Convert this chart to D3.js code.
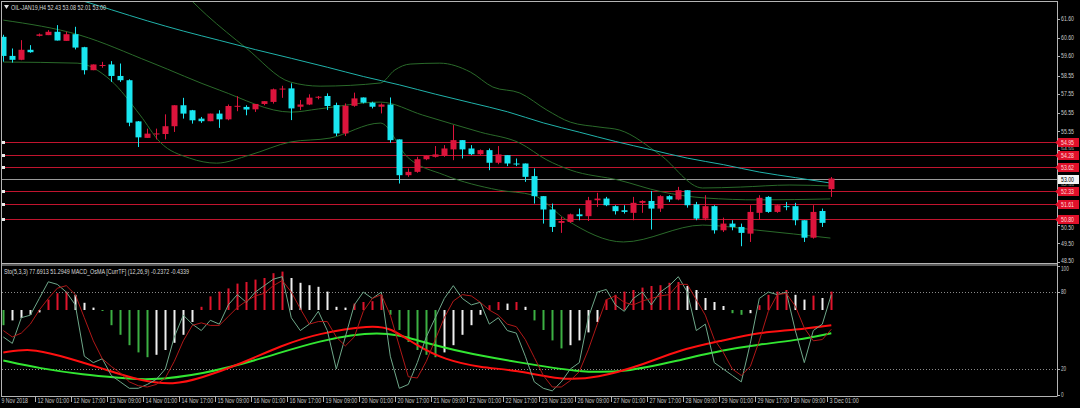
<!DOCTYPE html>
<html><head><meta charset="utf-8">
<script src="https://cdn.jsdelivr.net/npm/d3@7"></script>
<style>
html,body{margin:0;padding:0;background:#000;overflow:hidden;}
svg{display:block;}
text{font-family:"Liberation Sans",Arial,sans-serif;}
</style></head><body>
<svg id="c" width="1080" height="408"></svg>
<script>
// ---------------- DATA ----------------
const symbolTitle = "OIL-JAN19,H4  52.43 53.08 52.01 53.00";
const indicatorTitle = "Sto(5,3,3) 77.6913 51.2949  MACD_OsMA [CurrTF] (12,26,9) -0.2372 -0.4339";

const timeLabels = ["9 Nov 2018","12 Nov 01:00","12 Nov 17:00","13 Nov 09:00","14 Nov 01:00","14 Nov 17:00",
  "15 Nov 09:00","16 Nov 01:00","16 Nov 17:00","19 Nov 09:00","20 Nov 01:00","20 Nov 17:00","21 Nov 09:00",
  "22 Nov 01:00","22 Nov 17:00","23 Nov 13:00","26 Nov 09:00","27 Nov 01:00","27 Nov 17:00","28 Nov 09:00",
  "29 Nov 01:00","29 Nov 17:00","30 Nov 09:00","3 Dec 01:00"];
const timeLabelBars = [0,4,8,12,16,20,24,28,32,36,40,44,48,52,56,60,64,68,72,76,80,84,88,92];

const priceTicks = [61.60,60.60,59.60,58.55,57.55,56.55,55.55,54.55,52.55,50.50,49.50,48.50];
const stochTicks = [100,80,20,0];
const stochLevels = [80,20];

const levelLines = [54.95,54.28,53.62,52.33,51.61,50.80];
const bidPrice = 53.00;

const open  = [60.64,59.61,59.40,59.94,60.69,60.73,60.91,60.42,60.78,60.08,58.84,59.11,59.15,58.53,58.30,56.08,55.19,55.42,55.40,55.82,
  56.95,56.68,56.23,56.09,56.50,56.19,56.91,56.86,56.73,57.02,57.13,57.82,57.86,56.87,56.99,57.36,57.45,56.96,55.43,56.92,
  57.37,57.09,56.87,56.99,55.11,53.18,53.36,54.04,54.17,54.22,54.57,55.07,54.62,54.31,54.53,53.85,54.26,53.81,53.81,53.13,
  52.05,51.33,50.61,50.66,51.07,50.97,51.83,51.92,51.51,51.29,51.15,51.69,51.79,51.38,52.05,51.87,52.37,51.61,50.84,51.51,
  50.21,50.57,50.39,50.03,51.15,52.01,51.20,51.51,51.51,50.75,49.81,51.25,52.43];
const high  = [60.75,60.01,60.46,60.19,60.82,61.00,61.27,60.91,61.18,60.10,59.15,59.29,59.33,59.20,58.35,56.10,55.69,55.69,56.46,56.95,
  57.35,56.70,56.32,56.50,56.68,56.99,57.44,56.95,57.02,57.17,57.85,58.00,58.13,57.23,57.54,57.45,57.59,57.09,57.05,57.63,
  57.37,57.14,57.05,57.37,55.11,53.54,54.17,54.26,54.75,54.80,55.88,55.07,54.80,54.57,54.62,54.75,54.26,54.08,53.81,53.54,
  52.05,51.65,50.93,51.11,51.38,52.01,52.23,52.01,51.56,51.56,52.01,51.83,52.33,52.10,52.10,52.55,52.37,51.74,52.10,51.56,
  50.89,50.75,50.57,51.56,52.10,52.05,51.61,51.74,51.69,50.75,51.56,51.38,53.08];
const low   = [59.30,59.25,59.38,59.78,60.66,60.73,60.44,60.42,59.96,58.61,58.84,58.97,58.21,58.21,55.82,54.70,55.19,55.11,55.11,55.51,
  56.23,55.96,56.00,56.09,55.73,56.14,56.63,56.41,56.59,56.95,57.04,57.35,56.15,56.69,56.96,57.27,56.69,55.29,55.29,56.87,
  57.05,56.78,56.51,54.93,52.73,53.09,53.31,53.99,54.13,54.17,53.99,54.08,54.26,54.26,53.45,53.77,53.67,53.67,52.82,51.65,
  50.57,50.12,50.07,50.61,50.75,50.71,51.47,51.51,51.06,51.11,50.75,51.15,50.25,51.20,51.74,51.83,51.43,50.75,50.75,50.03,
  50.12,50.21,49.35,49.58,50.79,51.15,51.15,51.29,50.48,49.58,49.76,50.39,52.01];
const close = [59.61,59.40,59.94,59.81,60.77,60.91,60.44,60.78,60.06,58.84,59.15,59.12,58.53,58.30,56.01,55.22,55.42,55.43,55.82,56.95,
  56.50,56.14,56.09,56.50,56.19,56.91,56.92,56.72,57.02,57.17,57.81,57.85,56.78,56.99,57.36,57.41,56.91,55.43,56.92,57.32,
  57.09,56.87,56.99,55.07,53.18,53.36,54.04,54.22,54.30,54.62,55.07,54.57,54.31,54.53,53.85,54.30,53.81,53.80,53.09,52.05,
  51.33,50.39,50.71,51.07,50.97,51.83,51.92,51.56,51.24,51.20,51.69,51.79,51.38,52.05,51.87,52.37,51.56,50.84,51.51,50.21,
  50.57,50.39,50.07,51.20,51.96,51.20,51.56,51.50,50.75,49.81,51.20,50.61,53.00];

// moving average (teal) and Bollinger bands, [bar, price] readings
const maLine = [[0,63.8],[4,63.25],[8,62.7],[12,62.1],[16,61.5],[20,60.95],[24,60.45],[28,59.95],[32,59.48],[36,59.0],[40,58.5],
  [44,58.05],[48,57.55],[52,57.08],[56,56.6],[60,56.0],[64,55.5],[68,55.0],[72,54.55],[76,54.1],[80,53.75],[84,53.35],[88,53.05],[92,52.75]];
const bandUpper = [[16,64.5],[20,63.0],[22.6,61.81],[27,60.03],[31.9,58.2],[35.2,57.98],[41.9,58.15],[43.5,58.85],[45.2,59.17],[48.5,59.22],
  [51.9,58.74],[54.4,57.93],[57.4,57.61],[60.4,56.69],[63,56.04],[66.3,55.77],[68.5,55.61],[73,54.27],[77.7,52.49],[81.9,52.54],[87.4,52.65],[91.9,52.6]];
const bandMiddle = [[0,61.54],[8.5,60.73],[16.3,59.28],[24,57.77],[32,56.58],[35,56.75],[41.9,57.12],[46.6,56.42],[53,55.5],[57.4,54.91],
  [60.4,54.0],[63,53.46],[68.5,52.9],[73,52.3],[78,51.95],[84,51.85],[91.9,51.9]];
const bandLower = [[0,59.28],[8.2,59.22],[11.9,58.31],[15.2,56.42],[17.4,54.97],[20.7,54.1],[23.7,53.83],[27.4,54.27],[31.9,54.97],[36.3,55.18],
  [41.9,55.99],[44.9,54.16],[49,53.19],[55,52.38],[58.9,52.1],[62.6,50.76],[68.9,49.58],[77.7,50.49],[83.7,50.22],[91.9,49.79]];

// MACD OsMA histogram, one per bar
const osma = [-0.19,-0.13,-0.10,-0.06,-0.03,0.13,0.21,0.23,0.19,0.09,0.03,-0.01,-0.19,-0.31,-0.44,-0.53,-0.59,-0.56,-0.50,-0.41,
  -0.31,-0.15,0.04,0.17,0.23,0.27,0.33,0.35,0.38,0.40,0.46,0.48,0.40,0.34,0.31,0.29,0.23,0.04,0.03,0.08,
  0.10,0.11,0.19,-0.06,-0.25,-0.40,-0.50,-0.56,-0.59,-0.53,-0.44,-0.31,-0.19,-0.06,0.06,0.10,0.08,0.10,0.04,-0.13,
  -0.25,-0.38,-0.48,-0.44,-0.38,-0.28,-0.15,0.13,0.19,0.23,0.25,0.28,0.30,0.31,0.34,0.35,0.30,0.25,0.15,0.10,
  0.05,-0.04,-0.06,-0.04,0.06,0.19,0.23,0.25,0.19,0.13,0.18,0.15,0.23];
const macdRed = [[0,-0.53],[3,-0.48],[6,-0.56],[11,-0.73],[15,-0.88],[19,-0.94],[22,-0.85],[26,-0.69],[31,-0.44],[35,-0.29],[41,-0.19],
  [43,-0.22],[46,-0.45],[49,-0.62],[53,-0.72],[57,-0.75],[62,-0.88],[66,-0.85],[71,-0.69],[75,-0.5],[80,-0.38],[84,-0.28],[88,-0.25],[92,-0.19]];
const macdLime = [[0,-0.63],[4,-0.73],[9,-0.81],[13,-0.85],[16,-0.88],[22,-0.81],[29,-0.6],[35,-0.38],[42,-0.25],[46,-0.38],[51,-0.53],
  [57,-0.65],[64,-0.78],[69,-0.78],[75,-0.63],[80,-0.5],[84,-0.43],[88,-0.38],[92,-0.29]];

const stochMain = [45,40,60,62,75,88,86,80,70,30,25,28,15,10,5,5,8,12,20,45,62,55,50,58,55,70,78,72,80,85,90,92,60,50,55,65,50,20,45,70,
  80,75,80,30,5,8,25,45,60,75,85,75,70,72,55,60,50,48,30,10,5,3,10,20,25,60,80,82,70,65,75,80,70,80,85,92,80,50,55,25,
  20,15,10,40,75,80,78,80,50,25,50,55,78];
const stochSignal = [50,45,48,55,66,75,83,85,78,60,42,28,22,17,10,7,6,8,13,26,42,54,56,54,54,61,68,73,77,79,85,89,80,67,55,57,57,45,38,45,
  65,75,78,62,38,14,13,26,43,60,73,78,77,72,66,62,55,53,43,29,15,6,6,11,18,35,55,74,77,72,70,73,75,77,78,86,86,74,62,43,
  33,20,15,22,42,65,78,79,69,52,42,43,51];

// ---------------- DRAW ----------------
const svg = d3.select("#c");
const W = 1080, H = 408;
const plotRight = 1057;
const mainTop = 2, mainBottom = 263, indTop = 266, indBottom = 396;
const FS = "6.5px";

svg.append("rect").attr("width",W).attr("height",H).attr("fill","#000");

const x = d3.scaleLinear().domain([0,92]).range([3.3,831.3]);
const yP = d3.scaleLinear().domain([48.5,61.6]).range([262,19]);
const yS = d3.scaleLinear().domain([0,100]).range([394.7,266.4]);
const yM = d3.scaleLinear().domain([0,1]).range([310,230]);

const defs = svg.append("defs");
defs.append("clipPath").attr("id","clipMain").append("rect")
  .attr("x",2).attr("y",mainTop).attr("width",plotRight-2).attr("height",mainBottom-mainTop);
defs.append("clipPath").attr("id","clipInd").append("rect")
  .attr("x",2).attr("y",indTop).attr("width",plotRight-2).attr("height",indBottom-indTop);

const gMain = svg.append("g").attr("clip-path","url(#clipMain)");
const gInd = svg.append("g").attr("clip-path","url(#clipInd)");

// level lines
levelLines.forEach(v=>{
  gMain.append("line").attr("x1",2).attr("x2",plotRight).attr("y1",Math.round(yP(v))+0.5).attr("y2",Math.round(yP(v))+0.5)
    .attr("stroke","#c0142e").attr("stroke-width",1);
  gMain.append("rect").attr("x",2).attr("y",Math.round(yP(v))-1).attr("width",3).attr("height",3).attr("fill","#e8e8e8");
});
gMain.append("line").attr("x1",2).attr("x2",plotRight).attr("y1",Math.round(yP(bidPrice))+0.5).attr("y2",Math.round(yP(bidPrice))+0.5)
  .attr("stroke","#9a9a9a").attr("stroke-width",1);

// lines
const lineP = d3.line().x(d=>x(d[0])).y(d=>yP(d[1])).curve(d3.curveMonotoneX);
[bandUpper,bandMiddle,bandLower].forEach(b=>{
  gMain.append("path").attr("d",lineP(b)).attr("fill","none").attr("stroke","#2a6a2a").attr("stroke-width",1);
});
gMain.append("path").attr("d",lineP(maLine)).attr("fill","none").attr("stroke","#20b2aa").attr("stroke-width",1);

// candles
const bars = d3.range(open.length);
const UP = "#dc143c", DOWN = "#19e6f0";
const cg = gMain.append("g");
bars.forEach(i=>{
  const col = close[i] >= open[i] ? UP : DOWN;
  const cx = Math.round(x(i)) + 0.5;
  cg.append("line").attr("x1",cx).attr("x2",cx).attr("y1",yP(high[i])).attr("y2",yP(low[i]))
    .attr("stroke",col).attr("stroke-width",1);
  const yt = yP(Math.max(open[i],close[i])), yb = yP(Math.min(open[i],close[i]));
  cg.append("rect").attr("x",cx-3).attr("y",yt).attr("width",6).attr("height",Math.max(1,yb-yt)).attr("fill",col);
});

// indicator: levels
stochLevels.forEach(v=>{
  gInd.append("line").attr("x1",2).attr("x2",plotRight).attr("y1",Math.round(yS(v))+0.5).attr("y2",Math.round(yS(v))+0.5)
    .attr("stroke","#8a8a8a").attr("stroke-dasharray","1,2");
});
// histogram
bars.forEach(i=>{
  const v = osma[i], p = i>0 ? osma[i-1] : v;
  let col;
  if (v >= 0) col = v >= p ? "#e0142c" : "#f0f0f0";
  else col = v <= p ? "#3cb043" : "#f0f0f0";
  const cx = Math.round(x(i));
  const y0 = yM(0), y1 = yM(v);
  gInd.append("rect").attr("x",cx-0.5).attr("y",Math.min(y0,y1)).attr("width",2).attr("height",Math.max(1,Math.abs(y1-y0))).attr("fill",col);
});
const lineM = d3.line().x(d=>x(d[0])).y(d=>yM(d[1])).curve(d3.curveBasis);
gInd.append("path").attr("d",lineM(macdLime)).attr("fill","none").attr("stroke","#32e632").attr("stroke-width",2);
gInd.append("path").attr("d",lineM(macdRed)).attr("fill","none").attr("stroke","#ff1010").attr("stroke-width",2);
const lineS = d3.line().x((d,i)=>x(i)).y(d=>yS(d));
gInd.append("path").attr("d",lineS(stochMain)).attr("fill","none").attr("stroke","#6fa88a").attr("stroke-width",1);
gInd.append("path").attr("d",lineS(stochSignal)).attr("fill","none").attr("stroke","#b01818").attr("stroke-width",1);

// frames
const fr = svg.append("g").attr("stroke","#b4b4b4").attr("fill","none");
fr.append("line").attr("x1",1.5).attr("x2",1.5).attr("y1",1).attr("y2",indBottom);
fr.append("line").attr("x1",1).attr("x2",plotRight+0.5).attr("y1",1.5).attr("y2",1.5);
fr.append("line").attr("x1",plotRight+0.5).attr("x2",plotRight+0.5).attr("y1",1).attr("y2",indBottom);
fr.append("line").attr("x1",1).attr("x2",plotRight+0.5).attr("y1",mainBottom+0.5).attr("y2",mainBottom+0.5);
fr.append("line").attr("x1",1).attr("x2",plotRight+0.5).attr("y1",indTop-1).attr("y2",indTop-1);
fr.append("line").attr("x1",1).attr("x2",plotRight+0.5).attr("y1",indBottom+0.5).attr("y2",indBottom+0.5);

// right price axis
const ax = svg.append("g").attr("font-size",FS).attr("fill","#c8c8c8");
const labelYs = levelLines.map(v=>Math.round(yP(v))).concat([Math.round(yP(bidPrice))]);
priceTicks.forEach(v=>{
  const yy = yP(v);
  let ty = yy + 2.3, fs = FS;
  // room left between the boxed labels (each 9 px tall) around this tick
  const above = labelYs.filter(ly=>ly < yy + 2).map(ly=>ly + 5);
  const below = labelYs.filter(ly=>ly > yy - 2).map(ly=>ly - 4);
  const top = above.length ? Math.max(...above) : -Infinity;
  const bot = below.length ? Math.min(...below) : Infinity;
  if (bot - top < 7) { fs = "3.6px"; ty = bot - 0.6; }
  else if (ty > bot) ty = bot;
  else if (ty - 5 < top) ty = top + 5.5;
  if (v === 48.5) ty = Math.min(ty, yy + 0.5);
  ax.append("line").attr("x1",plotRight).attr("x2",plotRight+3).attr("y1",Math.round(yy)+0.5).attr("y2",Math.round(yy)+0.5).attr("stroke","#b4b4b4");
  ax.append("text").attr("x",1061).attr("y",ty).attr("font-size",fs).attr("textLength",13).attr("lengthAdjust","spacingAndGlyphs").text(v.toFixed(2));
});
stochTicks.forEach(v=>{
  const yy = yS(v);
  const s = String(v);
  const ty = v === 100 ? yy + 5 : yy + 2.3;
  ax.append("line").attr("x1",plotRight).attr("x2",plotRight+3).attr("y1",Math.round(yy)+0.5).attr("y2",Math.round(yy)+0.5).attr("stroke","#b4b4b4");
  ax.append("text").attr("x",1061).attr("y",ty).attr("textLength",s.length*2.6).attr("lengthAdjust","spacingAndGlyphs").text(s);
});
// level labels
levelLines.forEach(v=>{
  const yy = Math.round(yP(v));
  ax.append("rect").attr("x",1058).attr("y",yy-4).attr("width",21).attr("height",9).attr("fill","#e0102a");
  ax.append("path").attr("d",`M1055,${yy+0.5}L1058,${yy-2}L1058,${yy+3}Z`).attr("fill","#e0102a");
  ax.append("text").attr("x",1061).attr("y",yy+2.8).attr("fill","#ffd8d8").attr("textLength",13).attr("lengthAdjust","spacingAndGlyphs").text(v.toFixed(2));
});
{
  const yy = Math.round(yP(bidPrice));
  ax.append("rect").attr("x",1058).attr("y",yy-4).attr("width",21).attr("height",9).attr("fill","#f4f4f4");
  ax.append("text").attr("x",1061).attr("y",yy+2.8).attr("fill","#000").attr("textLength",13).attr("lengthAdjust","spacingAndGlyphs").text(bidPrice.toFixed(2));
}

// time axis
const tg = svg.append("g").attr("font-size",FS).attr("fill","#c8c8c8");
timeLabels.forEach((t,k)=>{
  const tx = Math.round(x(timeLabelBars[k])) - 3.5;
  tg.append("line").attr("x1",tx).attr("x2",tx).attr("y1",indBottom).attr("y2",indBottom+6).attr("stroke","#b4b4b4");
  tg.append("text").attr("x",tx+2).attr("y",403).attr("textLength",t.length*2.65).attr("lengthAdjust","spacingAndGlyphs").text(t);
});

// titles
svg.append("path").attr("d","M4,5L9,5L6.5,9Z").attr("fill","#e0e0e0");
svg.append("text").attr("x",11).attr("y",9.5).attr("font-size",FS).attr("fill","#d8d8d8")
  .attr("textLength",95).attr("lengthAdjust","spacingAndGlyphs").text(symbolTitle);
svg.append("text").attr("x",4).attr("y",273.5).attr("font-size",FS).attr("fill","#d8d8d8")
  .attr("textLength",185).attr("lengthAdjust","spacingAndGlyphs").text(indicatorTitle);
</script>
</body></html>
